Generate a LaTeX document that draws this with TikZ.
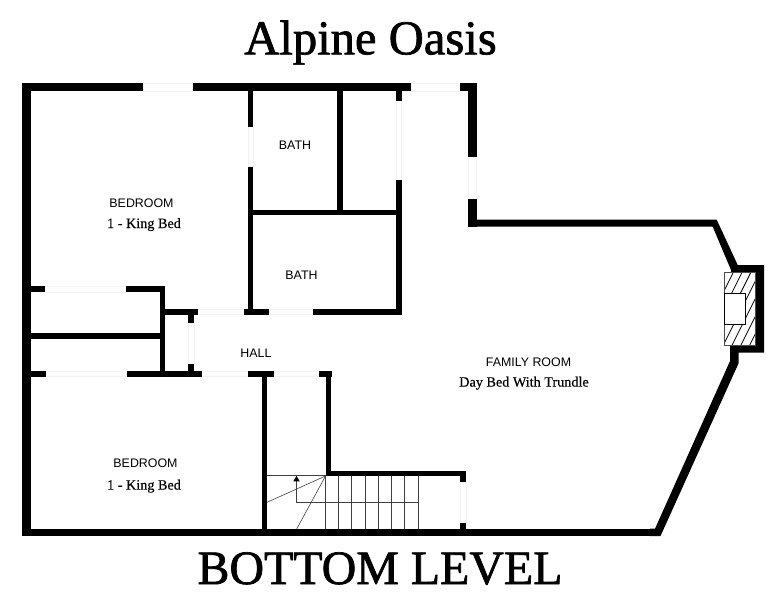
\documentclass[tikz,border=0pt]{standalone}
\usepackage{fontspec}
\setmainfont{Liberation Serif}
\setsansfont{Liberation Sans}
\newfontfamily\heavyserif{Liberation Serif}[FakeBold=1.4]
\newfontfamily\midserif{Liberation Serif}[FakeBold=0.3]
\tikzset{
  wall/.style={fill=black,draw=none},
  win/.style={fill=white,draw=black!5,line width=0.7pt},
  thin line/.style={draw=black!75,line width=0.6pt},
  titletext/.style={inner sep=0pt,anchor=base,font=\heavyserif\fontsize{48.6}{50}\selectfont},
  leveltext/.style={inner sep=0pt,anchor=base,font=\heavyserif\fontsize{47.9}{50}\selectfont},
  roomlabel/.style={inner sep=0pt,font=\sffamily\fontsize{12.4}{14}\selectfont},
  bedlabel/.style={inner sep=0pt,font=\midserif\fontsize{14.2}{16}\selectfont},
}
\newcommand{\wl}[4]{\path[wall] (#1,#2) rectangle (#3,#4);}
\newcommand{\wn}[4]{\path[win] (#1,#2) rectangle (#3,#4);}
\begin{document}
\begin{tikzpicture}[x=1pt,y=-1pt]
\useasboundingbox[fill=white] (0,0) rectangle (783,600);
% windows / openings (very faint)
\wn{143}{83.5}{192.5}{91}
\wn{411}{83.5}{460}{91}
\wn{248}{126.5}{253}{166.7}
\wn{396}{100.7}{401.6}{180}
\wn{468}{156.5}{476.7}{199.3}
\wn{45.3}{286.5}{126}{292}
\wn{45.3}{371}{126.7}{376.7}
\wn{197.7}{309}{244.3}{314.7}
\wn{269.3}{309}{313.3}{314.7}
\wn{188}{323}{194}{364}
\wn{201.7}{371}{248.3}{376.7}
\wn{274}{371}{319.3}{376.7}
\wn{460}{482}{466}{523.3}
% outer walls
\wl{22}{83.3}{30.7}{536}
\wl{22}{83.3}{143}{91.2}
\wl{192.5}{83.3}{411}{91.2}
\wl{460}{83.3}{476.7}{91.2}
\wl{468}{83.3}{476.7}{156.5}
\wl{468}{199.3}{476.7}{226.7}
\wl{22}{528.7}{656}{536}
% upper-right contour
\path[wall] (468,219.7) -- (716.7,219.7) -- (737.7,265) -- (764,265) -- (764,352.7)
  -- (738.7,352.7) -- (738.7,363) -- (660.5,536) -- (650,536) -- (650,528.7) -- (655,528.7)
  -- (730,361) -- (730,345) -- (755.7,345) -- (755.7,272.3) -- (731,272.3) -- (731,270)
  -- (712.7,226.7) -- (468,226.7) -- cycle;
% interior walls
\wl{247.5}{91}{253}{126.5}
\wl{247.5}{166.7}{253}{314}
\wl{337}{91}{342.5}{212}
\wl{250}{210}{400}{215}
\wl{396}{91}{401.6}{100.7}
\wl{396}{180}{401.6}{314}
\wl{30}{286}{45.3}{292}
\wl{126}{286}{165.3}{292}
\wl{160}{286}{165.3}{376}
\wl{165}{308.7}{197.7}{314.7}
\wl{244.3}{308.7}{269.3}{314.7}
\wl{313.3}{308.7}{401.6}{314.7}
\wl{188}{314}{194}{323}
\wl{188}{364}{194}{372}
\wl{30}{332.7}{160}{338.7}
\wl{30}{370.7}{45.6}{376.7}
\wl{126.7}{370.7}{201.7}{376.7}
\wl{248.3}{370.7}{274}{376.7}
\wl{319.3}{370.7}{331.5}{376.7}
\wl{261.5}{376}{267.3}{530}
\wl{325.5}{370.7}{331.3}{476}
\wl{325.5}{470.7}{466}{476}
\wl{460}{470.7}{466}{482}
\wl{460}{523.3}{466}{530}
% stairs
\foreach \sx in {325.3,338.7,351.7,365,378.3,391.7,404.7,418}
  \draw[thin line] (\sx,476) -- (\sx,529);
\draw[thin line] (267,475.7) -- (325.5,475.7);
\draw[thin line] (325.5,476) -- (267,502.3);
\draw[thin line] (325.5,476) -- (296.7,529);
\draw[thin line] (418,502.3) -- (296.5,502.3) -- (296.5,480);
\path[fill=black] (296.5,475.8) -- (299.7,481.3) -- (293.3,481.3) -- cycle;
% fireplace
\begin{scope}
  \clip (724.3,272.3) rectangle (755.7,345);
  \foreach \k in {-8,...,8}
    \draw[black,line width=0.8pt] ({733.3+8.8*\k},272.3) -- ({733.3+8.8*\k-40},352.3);
\end{scope}
\draw[black!70,line width=0.7pt] (724.3,272.3) rectangle (755.7,345);
\path[fill=white,draw=black,line width=0.8pt] (724.3,293.3) rectangle (745.3,324.3);
% labels
\node[titletext] (title) at (370.5,54.3) {Alpine Oasis};
\node[leveltext] (level) at (380,584) {BOTTOM LEVEL};
\node[roomlabel] (bed1) at (141.5,203.2) {BEDROOM};
\node[bedlabel] (king1) at (144,224.6) {1 - King Bed};
\node[roomlabel] (bath1) at (295,145.7) {BATH};
\node[roomlabel] (bath2) at (301.5,274.8) {BATH};
\node[roomlabel] (hall) at (256,352.8) {HALL};
\node[roomlabel] (family) at (528.5,361.8) {FAMILY ROOM};
\node[bedlabel] (day) at (524,383.2) {Day Bed With Trundle};
\node[roomlabel] (bed2) at (145.5,462.8) {BEDROOM};
\node[bedlabel] (king2) at (144,486.2) {1 - King Bed};
\end{tikzpicture}
\end{document}
